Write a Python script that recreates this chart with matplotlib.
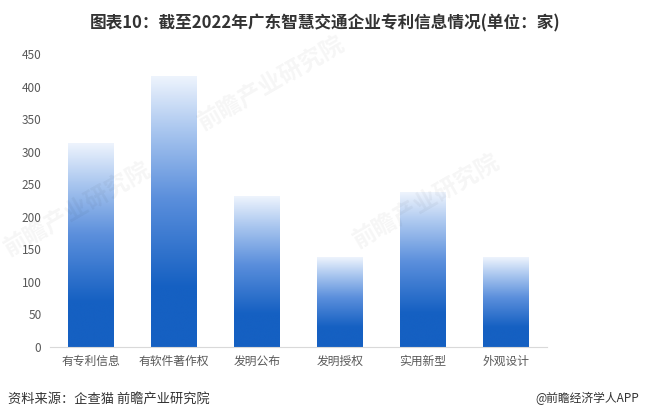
#!/usr/bin/env python3

import matplotlib
matplotlib.use("Agg")
import matplotlib.pyplot as plt
import numpy as np
from matplotlib.colors import LinearSegmentedColormap

plt.rcParams['font.family'] = ['Noto Sans CJK SC', 'DejaVu Sans']

categories = ["有专利信息", "有软件著作权", "发明公布", "发明授权", "实用新型", "外观设计"]
values = [313, 416, 232, 137, 237, 138]  # 单位：家
yticks = [0, 50, 100, 150, 200, 250, 300, 350, 400, 450]

title = "图表10：截至2022年广东智慧交通企业专利信息情况(单位：家)"
source = "资料来源：企查猫 前瞻产业研究院"
credit = "@前瞻经济学人APP"

fig = plt.figure(figsize=(6.46, 4.19), dpi=100)
ax = fig.add_axes([0.077, 0.172, 0.770, 0.699])

# gradient: light at top, dark blue toward the bottom, solid at the base
cmap = LinearSegmentedColormap.from_list(
    "bar", [(0.0, "#1560c2"), (0.22, "#1560c2"), (0.55, "#5b8fdc"),
            (0.8, "#a9c6ef"), (1.0, "#eef4fd")])
grad = np.linspace(0, 1, 256).reshape(-1, 1)

w = 0.55
x = np.arange(len(categories))
bars = ax.bar(x, values, width=w, color="none", edgecolor="none")
for b in bars:
    x0, h = b.get_x(), b.get_height()
    ax.imshow(grad, cmap=cmap, origin="lower", aspect="auto",
              extent=[x0, x0 + w, 0, h], zorder=2, interpolation="bicubic")

ax.set_xlim(-0.5, len(categories) - 0.5)
ax.set_ylim(0, 450)
ax.set_yticks(yticks)
ax.set_xticks(x)
ax.set_xticklabels(categories, fontsize=8.5, color="#595959")
ax.tick_params(axis="y", length=0, labelsize=8.5, labelcolor="#595959", pad=6)
ax.tick_params(axis="x", length=0, pad=6)
for s in ["top", "right", "left"]:
    ax.spines[s].set_visible(False)
ax.spines["bottom"].set_color("#d9d9d9")
ax.spines["bottom"].set_linewidth(0.8)

# faint watermarks
for (wx, wy) in [(0.12, 0.50), (0.42, 0.80), (0.66, 0.52)]:
    fig.text(wx, wy, "前瞻产业研究院", fontsize=17, fontweight="bold",
             color="#000000", alpha=0.04, rotation=30, ha="center", va="center")

fig.text(0.503, 0.945, title, ha="center", va="center", fontsize=12,
         fontweight="bold", color="#333333")
fig.text(0.012, 0.048, source, ha="left", va="center", fontsize=9.5, color="#333333")
fig.text(0.99, 0.048, credit, ha="right", va="center", fontsize=8.5, color="#333333")

fig.savefig("out.png", dpi=100)
